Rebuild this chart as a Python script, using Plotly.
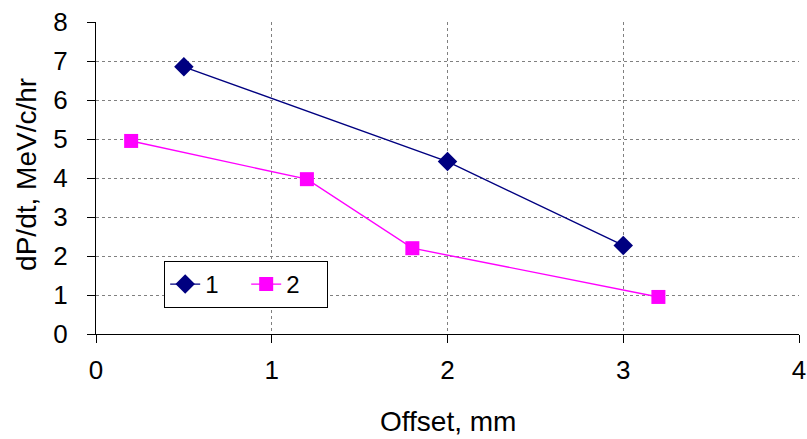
import plotly.graph_objects as go

s1_x = [0.5, 2.0, 3.0]
s1_y = [6.85, 4.42, 2.27]
s2_x = [0.2, 1.2, 1.8, 3.2]
s2_y = [4.95, 3.97, 2.2, 0.95]
series_names = ["1", "2"]
x_ticks = [0, 1, 2, 3, 4]
y_ticks = [0, 1, 2, 3, 4, 5, 6, 7, 8]
x_title = "Offset, mm"
y_title = "dP/dt, MeV/c/hr"

FONT = "Liberation Sans, Arial, sans-serif"
FS_TICK = 26
FS_TITLE = 28

fig = go.Figure()
fig.add_trace(go.Scatter(x=s1_x, y=s1_y, name=series_names[0], mode="lines+markers",
                         line=dict(color="#000080", width=1.4),
                         marker=dict(symbol="diamond", size=15, color="#000080")))
fig.add_trace(go.Scatter(x=s2_x, y=s2_y, name=series_names[1], mode="lines+markers",
                         line=dict(color="#FF00FF", width=1.4),
                         marker=dict(symbol="square", size=14, color="#FF00FF")))

axis_common = dict(showline=True, linecolor="black", linewidth=1.3, ticks="outside",
                   ticklen=8, tickcolor="black", showgrid=True, gridcolor="#808080",
                   griddash="dot", gridwidth=1, zeroline=False, mirror=False,
                   automargin=False,
                   tickfont=dict(family=FONT, size=FS_TICK, color="black"))

fig.update_xaxes(range=[0, 4], tickvals=x_ticks, ticklabelstandoff=5, **axis_common)
fig.update_yaxes(range=[0, 8], tickvals=y_ticks, ticklabelstandoff=14, **axis_common)

fig.add_annotation(text=x_title, xref="paper", yref="paper", x=0.5, y=0,
                   xanchor="center", yanchor="middle", yshift=-87, showarrow=False,
                   borderpad=0,
                   font=dict(family=FONT, size=FS_TITLE, color="black"))
fig.add_annotation(text=y_title, xref="paper", yref="paper", x=0, y=0.51,
                   xanchor="center", yanchor="middle", xshift=-69, textangle=-90,
                   showarrow=False, borderpad=0,
                   font=dict(family=FONT, size=FS_TITLE, color="black"))

fig.update_layout(
    width=807, height=439,
    margin=dict(l=96, r=8, t=22, b=105),
    paper_bgcolor="white", plot_bgcolor="white",
    font=dict(family=FONT, size=FS_TICK, color="black"),
    legend=dict(orientation="h", x=0.097, y=0.234, xanchor="left", yanchor="top",
                bgcolor="white", bordercolor="black", borderwidth=1,
                font=dict(family=FONT, size=24, color="black"),
                entrywidth=36, entrywidthmode="pixels", tracegroupgap=0),
    showlegend=True,
)

# remove the page body's default 8px margin so the figure fills the window exactly
fig.write_html("out.html", config={"displayModeBar": False},
               post_script="document.body.style.margin='0';")
